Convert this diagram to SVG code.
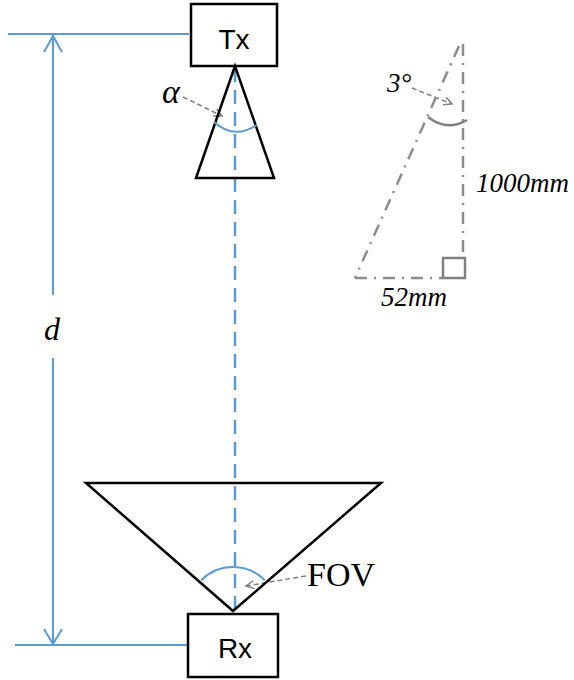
<svg xmlns="http://www.w3.org/2000/svg" width="574" height="680" viewBox="0 0 574 680">
<style>
.box{fill:#fff;stroke:#000;stroke-width:2.5}
.shape{fill:none;stroke:#000;stroke-width:2.5;stroke-linejoin:miter}
.blue{fill:none;stroke:#5b9bd5;stroke-width:2}
.bluedash{fill:none;stroke:#5b9bd5;stroke-width:2.5;stroke-dasharray:14 8}
.gray{fill:none;stroke:#808080;stroke-width:2.5}
.dashdot{fill:none;stroke:#8c8c8c;stroke-width:2.5;stroke-dasharray:12 7 2 7}
.ptr{fill:none;stroke:#808080;stroke-width:1.5;stroke-dasharray:5 3}
.sans{font-family:"Liberation Sans",Arial,sans-serif;font-size:28px;fill:#000}
.serif{font-family:"Liberation Serif","Times New Roman",serif;fill:#000}
.it{font-style:italic}
</style>
<defs>
<marker id="open" viewBox="0 0 10 10" refX="9" refY="5" markerWidth="10" markerHeight="10" markerUnits="userSpaceOnUse" orient="auto">
<path d="M1,1 L9,5 L1,9" fill="none" stroke="#808080" stroke-width="1.5"/>
</marker>
</defs>

<g id="connectors">
<line class="blue" x1="8" y1="34" x2="189" y2="34"/>
<line class="blue" x1="15" y1="645" x2="188" y2="645"/>
<line class="blue" x1="53" y1="35" x2="53" y2="295"/>
<line class="blue" x1="53" y1="358" x2="53" y2="645"/>
<polyline class="blue" points="44,52 53,36 62,52"/>
<polyline class="blue" points="44,629 53,644 62,629"/>
<line class="bluedash" x1="235" y1="68" x2="235" y2="611"/>
<line class="ptr" x1="183" y1="97" x2="222" y2="116" marker-end="url(#open)"/>
<line class="ptr" x1="412" y1="88" x2="452" y2="104" marker-end="url(#open)"/>
<line class="ptr" x1="306" y1="576" x2="246" y2="586" marker-end="url(#open)"/>
</g>

<g id="tx">
<rect class="box" x="191" y="4" width="86" height="62"/>
<text class="sans" x="234" y="49" text-anchor="middle">Tx</text>
</g>

<g id="tx-beam">
<polygon class="shape" points="235,66 196,178 274,178"/>
<path class="blue" d="M214,122 Q234,140 257,125" stroke-width="2.5"/>
<text class="serif it" x="171" y="103" font-size="34" text-anchor="middle">α</text>
</g>

<g id="rx-fov">
<polygon class="shape" points="86,483 381,483 233,611"/>
<path class="blue" d="M201.2,580.2 A45,45 0 0 1 264.8,580.2" stroke-width="2.5"/>
<text class="serif" x="307" y="586" font-size="34">FOV</text>
</g>

<g id="rx">
<rect class="box" x="188" y="614" width="90" height="63"/>
<text class="sans" x="235" y="658" text-anchor="middle">Rx</text>
</g>

<g id="distance-label">
<text class="serif it" x="52" y="340" font-size="32" text-anchor="middle">d</text>
</g>

<g id="triangle">
<line class="dashdot" x1="459" y1="46" x2="355" y2="278"/>
<line class="dashdot" x1="463" y1="44" x2="463" y2="257"/>
<line class="dashdot" x1="355" y1="278" x2="443" y2="278"/>
<path class="gray" d="M443,278 L443,258 L465,258 L465,278 Z"/>
<path class="gray" d="M428,117 Q447,132 467,120"/>
<text class="serif it" x="387" y="92" font-size="27">3°</text>
<text class="serif it" x="476" y="192" font-size="27">1000mm</text>
<text class="serif it" x="381" y="306" font-size="27">52mm</text>
</g>
</svg>
